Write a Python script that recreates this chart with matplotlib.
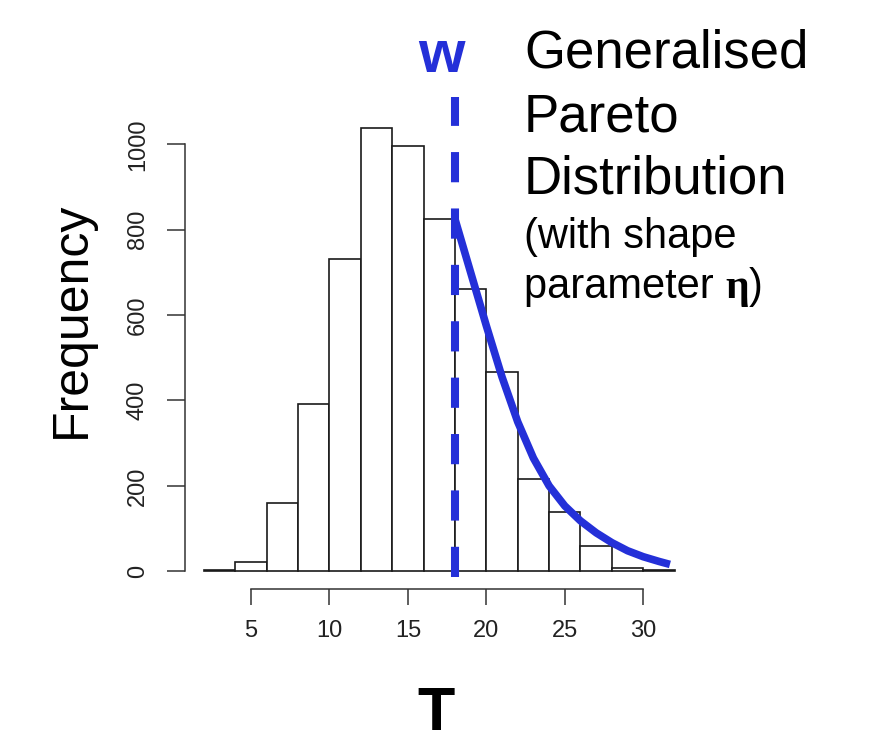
import matplotlib.pyplot as plt

plt.rcParams['font.family'] = ['Liberation Sans', 'DejaVu Sans']

# histogram of T (bins of width 2)
bin_left = [2, 4, 6, 8, 10, 12, 14, 16, 18, 20, 22, 24, 26, 28, 30]
counts = [4, 22, 159, 391, 731, 1039, 997, 825, 661, 466, 216, 138, 59, 8, 4]
bin_width = 2

# threshold w and the fitted GPD tail
threshold = 18
tail_x = [18, 19, 20, 21, 22, 23, 24, 25, 26, 27, 28, 29, 30, 31, 31.7]
tail_freq = [825, 700, 575, 455, 350, 265, 200, 153, 118, 90, 67, 48, 34, 23, 16]

x_ticks = [5, 10, 15, 20, 25, 30]
y_ticks = [0, 200, 400, 600, 800, 1000]

blue = '#2430d8'
W, H = 891, 745

fig = plt.figure(figsize=(W / 100, H / 100), dpi=100)
ax = fig.add_axes([0.2077, 0.2094, 0.5706, 0.6436])

ax.bar(bin_left, counts, width=bin_width, align='edge',
       color='white', edgecolor='#1a1a1a', linewidth=1.2, zorder=2)

ax.plot(tail_x, tail_freq, color=blue, lw=5.5, solid_capstyle='butt',
        solid_joinstyle='round', zorder=4)

vline, = ax.plot([threshold, threshold], [-14, 1111], color=blue, lw=5.8,
                 dash_capstyle='butt', clip_on=False, zorder=5)
vline.set_dashes([3.75, 3.25])

ax.set_xlim(0.8, 33.2)
ax.set_ylim(-41.6, 1081.6)

for s in ['top', 'right']:
    ax.spines[s].set_visible(False)
ax.spines['left'].set_bounds(0, 1000)
ax.spines['bottom'].set_bounds(5, 30)
for s in ['left', 'bottom']:
    ax.spines[s].set_linewidth(1.1)
    ax.spines[s].set_color('#333333')

ax.set_xticks(x_ticks)
ax.set_yticks(y_ticks)
ax.tick_params(axis='y', length=13, width=1.1, color='#333333', pad=13,
               labelsize=17, labelcolor='#222222', labelrotation=90)
ax.tick_params(axis='x', length=11.5, width=1.1, color='#333333', pad=11,
               labelsize=17, labelcolor='#222222')
for lab in ax.get_yticklabels():
    lab.set_va('center')

fig.text(72 / W, 1 - 320 / H, 'Frequency', rotation=90, ha='center',
         va='center', size=36)
fig.text(436 / W, 1.5 / H, 'T', ha='center', va='bottom',
         size=44, weight='bold')

fig.text(441 / W, 1 - 72 / H, 'w', ha='center', va='baseline', size=43,
         weight='bold', color=blue)

left = 524 / W
fig.text(left, 1 - 68 / H, 'Generalised', size=38, va='baseline')
fig.text(left, 1 - 131 / H, 'Pareto', size=38, va='baseline')
fig.text(left, 1 - 194 / H, 'Distribution', size=38, va='baseline')
fig.text(left, 1 - 248 / H, '(with shape', size=30, va='baseline')
t1 = fig.text(left, 1 - 298 / H, 'parameter ', size=30, va='baseline')

# bold serif eta, then closing bracket, placed after the measured text
renderer = fig.canvas.get_renderer()
bb = t1.get_window_extent(renderer)
t2 = fig.text(bb.x1 / W, 1 - 298 / H, '\u03b7', size=30, va='baseline',
              weight='bold', family=['Liberation Serif', 'DejaVu Serif'])
bb2 = t2.get_window_extent(renderer)
fig.text(bb2.x1 / W, 1 - 298 / H, ')', size=30, va='baseline')

fig.savefig('out.png', dpi=100)
